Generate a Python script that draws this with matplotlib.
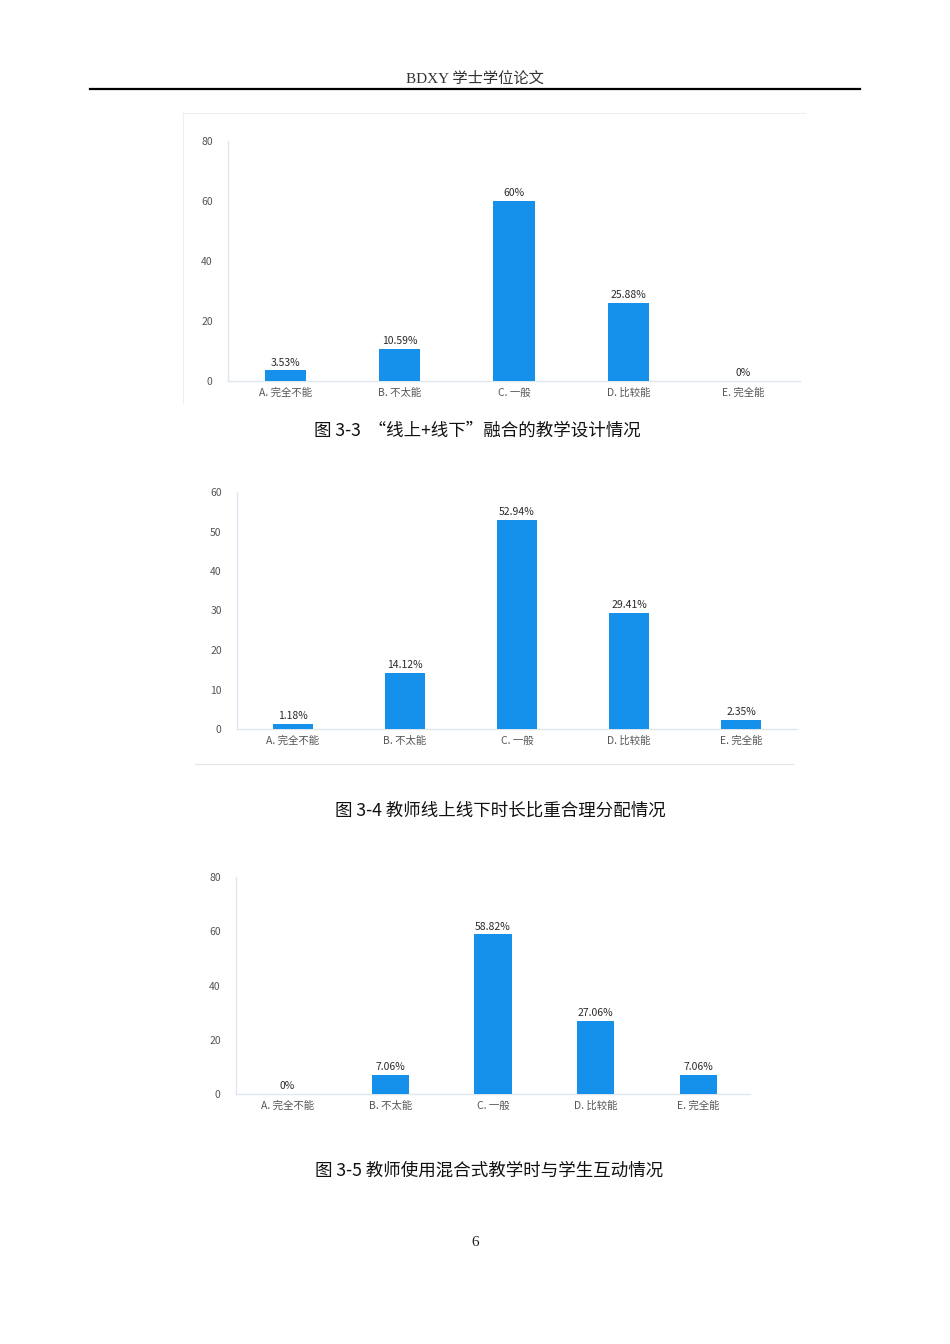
import matplotlib.pyplot as plt
from matplotlib.lines import Line2D

plt.rcParams['font.family'] = ['Noto Sans CJK SC', 'DejaVu Sans']

categories = ["A. 完全不能", "B. 不太能", "C. 一般", "D. 比较能", "E. 完全能"]

vals_33 = [3.53, 10.59, 60, 25.88, 0]
labels_33 = ["3.53%", "10.59%", "60%", "25.88%", "0%"]
vals_34 = [1.18, 14.12, 52.94, 29.41, 2.35]
labels_34 = ["1.18%", "14.12%", "52.94%", "29.41%", "2.35%"]
vals_35 = [0, 7.06, 58.82, 27.06, 7.06]
labels_35 = ["0%", "7.06%", "58.82%", "27.06%", "7.06%"]

captions = ["图 3-3  “线上+线下”融合的教学设计情况",
            "图 3-4 教师线上线下时长比重合理分配情况",
            "图 3-5 教师使用混合式教学时与学生互动情况"]

W, H = 950, 1344
BAR = "#1590eb"
AXC = "#dfe6f0"
TICKC = "#555555"

fig = plt.figure(figsize=(W / 100, H / 100), dpi=100)


def px_axes(x0, x1, y0, y1):
    # pixel box (top-left origin) -> figure fraction axes
    return fig.add_axes([x0 / W, 1 - y1 / H, (x1 - x0) / W, (y1 - y0) / H])


def bar_chart(box, vals, labels, ymax, step, width):
    ax = px_axes(*box)
    x = range(len(categories))
    ax.bar(x, vals, width=width, color=BAR, zorder=3)
    for xi, v, lab in zip(x, vals, labels):
        ax.text(xi, v + ymax * 0.012, lab, ha="center", va="bottom",
                fontsize=7.5, color="#2a2a2a")
    ax.set_xlim(-0.5, len(categories) - 0.5)
    ax.set_ylim(0, ymax)
    ax.set_yticks(range(0, ymax + 1, step))
    ax.set_xticks(list(x))
    ax.set_xticklabels(categories)
    ax.tick_params(length=0, labelsize=7.5, colors=TICKC)
    ax.tick_params(axis="y", pad=11)
    ax.tick_params(axis="x", pad=5)
    for s in ["top", "right"]:
        ax.spines[s].set_visible(False)
    for s in ["left", "bottom"]:
        ax.spines[s].set_color(AXC)
        ax.spines[s].set_linewidth(1)
    return ax


def hline(x0, x1, y, color, lw):
    fig.add_artist(Line2D([x0 / W, x1 / W], [1 - y / H, 1 - y / H],
                          color=color, lw=lw))


def vline(x, y0, y1, color, lw):
    fig.add_artist(Line2D([x / W, x / W], [1 - y0 / H, 1 - y1 / H],
                          color=color, lw=lw))


# page header
fig.text(475 / W, 1 - 79 / H, "BDXY 学士学位论文", ha="center", va="center",
         fontsize=11, color="#333333",
         family=["Liberation Serif", "Noto Sans CJK SC"])
hline(90, 860, 89, "black", 1.6)

# chart 3-3
hline(183, 805, 113, "#eeeeee", 0.8)
vline(183, 113, 403, "#eeeeee", 0.8)
bar_chart((228, 800, 141, 381), vals_33, labels_33, 80, 20, 0.36)
fig.text(477 / W, 1 - 431 / H, captions[0], ha="center", va="center",
         fontsize=12.6, color="#111111")

# chart 3-4
bar_chart((237, 797, 492, 729), vals_34, labels_34, 60, 10, 0.36)
hline(195, 793, 764, "#e6e6e6", 0.8)
fig.text(500 / W, 1 - 811 / H, captions[1], ha="center", va="center",
         fontsize=12.6, color="#111111")

# chart 3-5
bar_chart((236, 750, 877, 1094), vals_35, labels_35, 80, 20, 0.36)
fig.text(489 / W, 1 - 1171 / H, captions[2], ha="center", va="center",
         fontsize=12.6, color="#111111")

# page number
fig.text(475 / W, 1 - 1242 / H, "6", ha="center", va="center",
         fontsize=11, color="#222222", family=["Liberation Serif"])

fig.savefig("out.png", dpi=100)
